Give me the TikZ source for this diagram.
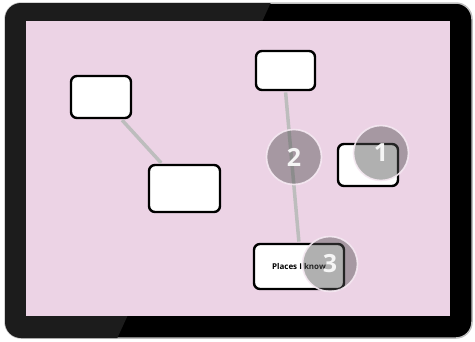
\documentclass[tikz,border=0pt]{standalone}
\usepackage{fontspec}
\setsansfont{Open Sans}
\definecolor{screenpink}{HTML}{ECD3E5}
\definecolor{framegray}{HTML}{1C1C1C}
\definecolor{linkgray}{HTML}{BDBDBD}
\definecolor{badgegray}{HTML}{515151}
\definecolor{ringpink}{HTML}{F6EAF3}

\begin{document}
\begin{tikzpicture}[
                x=1pt, y=-1pt,
                card/.style = {rectangle, rounded corners=6pt, draw=black, line width=2.4pt, fill=white, inner sep=0pt},
                link/.style = {draw=linkgray, line width=3.5pt},
                badge/.style = {circle, fill=badgegray, fill opacity=0.45, draw=ringpink, draw opacity=0.9, line width=1.6pt,
                        minimum size=55pt, text opacity=1, text=white!92!gray, font=\sffamily\bfseries\fontsize{25}{25}\selectfont}
        ]
        \useasboundingbox (0,0) rectangle (475,341);
        % tablet frame
        \draw[gray!50, line width=1.5pt, fill=black, rounded corners=16pt] (5,3) rectangle (472,338);
        \begin{scope}
                \clip[rounded corners=16pt] (5,3) rectangle (472,338);
                \fill[framegray] (0,0) -- (272,0) -- (116,341) -- (0,341) -- cycle;
        \end{scope}
        \fill[screenpink] (26,21) rectangle (450,316);
        % cards
        \node[card, minimum width=60pt, minimum height=42pt] (home) at (101,97) {};
        \node[card, minimum width=71pt, minimum height=47pt] (work) at (184.5,188.5) {};
        \node[card, minimum width=59pt, minimum height=39pt] (topic) at (285.5,70.5) {};
        \node[card, minimum width=60pt, minimum height=42pt] (side) at (368,165) {};
        \node[card, minimum width=90pt, minimum height=45pt, font=\sffamily\bfseries\fontsize{8}{9}\selectfont] (places) at (299,266.5) {Places I know};
        % links
        \path[link, shorten <=1.2pt, shorten >=1.2pt] (home) -- (work);
        \path[link, shorten <=1.2pt, shorten >=1.2pt] (topic.south) -- (places.north);
        % badges
        \node[badge] (one) at (381,153) {1};
        \node[badge] (two) at (294,157) {2};
        \node[badge] (three) at (330,264) {3};
\end{tikzpicture}
\end{document}
